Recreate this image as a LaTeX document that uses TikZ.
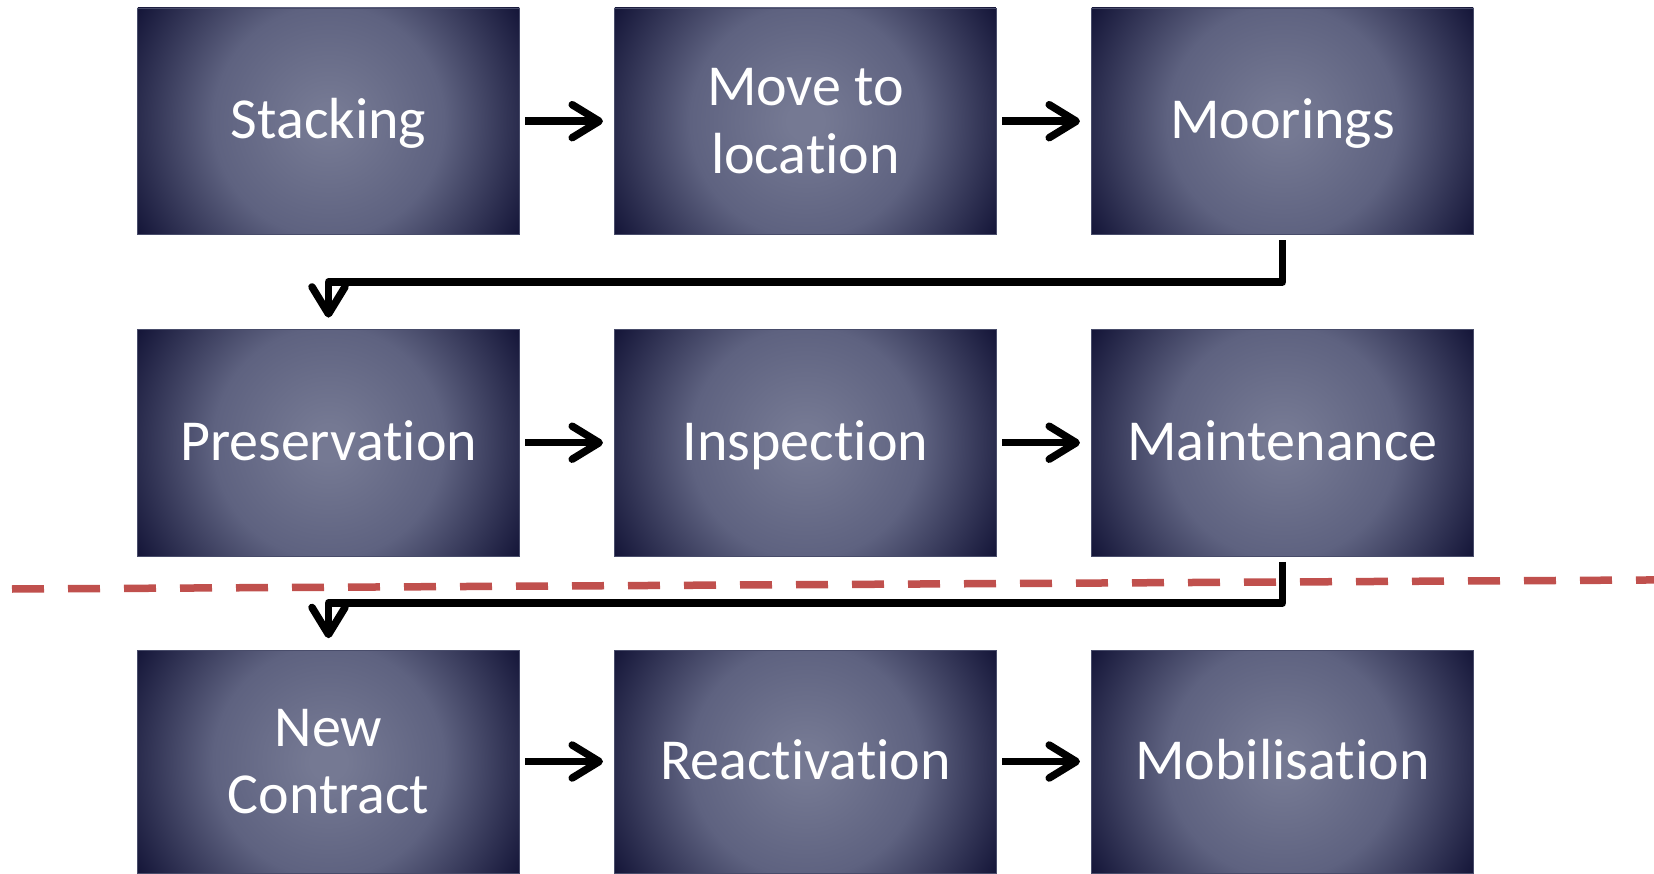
\documentclass[tikz,border=0pt]{standalone}
\usepackage{fontspec}
\setmainfont{Carlito}[Ligatures=NoCommon]
\usetikzlibrary{arrows.meta,calc}
\definecolor{boxlight}{RGB}{117,121,147}
\definecolor{boxmid}{RGB}{94,98,128}
\definecolor{boxdark}{RGB}{20,21,56}
\definecolor{boxedge}{RGB}{72,76,106}
\definecolor{cutred}{RGB}{192,80,77}
\pgfdeclareradialshading{boxglow}{\pgfpointorigin}{color(0bp)=(boxlight); color(2bp)=(boxlight); color(13bp)=(boxmid); color(25bp)=(boxdark); color(50bp)=(boxdark)}
\begin{document}
\begin{tikzpicture}[x=1pt,y=-1pt,
  stepbox/.style={rectangle, minimum width=381.5pt, minimum height=226.5pt,
    inner sep=0pt, draw=boxedge, line width=0.6pt, text=white, align=center,
    font=\fontsize{58pt}{67.5pt}\selectfont,
    path picture={\shade[shading=boxglow] (path picture bounding box.center) circle (222pt);}},
  oneline/.style={text height=35pt, text depth=0pt},
  lowbox/.style={stepbox, minimum height=223pt},
  flow/.style={line width=7.5pt, -{Straight Barb[length=27pt,width=33pt,round]},
    shorten <=5.5pt, shorten >=11.5pt},
  elbow/.style={flow, line join=round},
  cutline/.style={cutred, line width=7.5pt, dash pattern=on 32pt off 24pt}]
\fill[white] (0,0) rectangle (1654,874);
\useasboundingbox (0,0) rectangle (1654,874);

\node[stepbox, oneline] (stack) at (328.5,121.2) {Stacking};
\node[stepbox]          (move)  at (805.5,121.2) {Move to\\location};
\node[stepbox, oneline] (moor)  at (1282.5,121.2) {Moorings};
\node[stepbox, oneline] (pres)  at (328.5,442.7) {Preservation};
\node[stepbox, oneline] (insp)  at (805.5,442.7) {Inspection};
\node[stepbox, oneline] (maint) at (1282.5,442.7) {Maintenance};
\node[lowbox]           (newc)  at (328.5,761.5) {New\\Contract};
\node[lowbox, oneline]  (react) at (805.5,761.5) {Reactivation};
\node[lowbox, oneline]  (mobil) at (1282.5,761.5) {Mobilisation};

\coordinate (cutL) at (12,589);
\coordinate (cutR) at (1700,579.7);
\draw[cutline] (cutL) -- (cutR);

\draw[flow] (stack) -- (move);
\draw[flow] (move) -- (moor);
\draw[flow] (pres) -- (insp);
\draw[flow] (insp) -- (maint);
\draw[flow] (newc) -- (react);
\draw[flow] (react) -- (mobil);

\draw[elbow] (moor.south) |- ($(moor.south)!0.5!(pres.north)$) -| (pres.north);
\draw[elbow] (maint.south) |- ($(maint.south)!0.5!(newc.north)$) -| (newc.north);
\end{tikzpicture}
\end{document}
